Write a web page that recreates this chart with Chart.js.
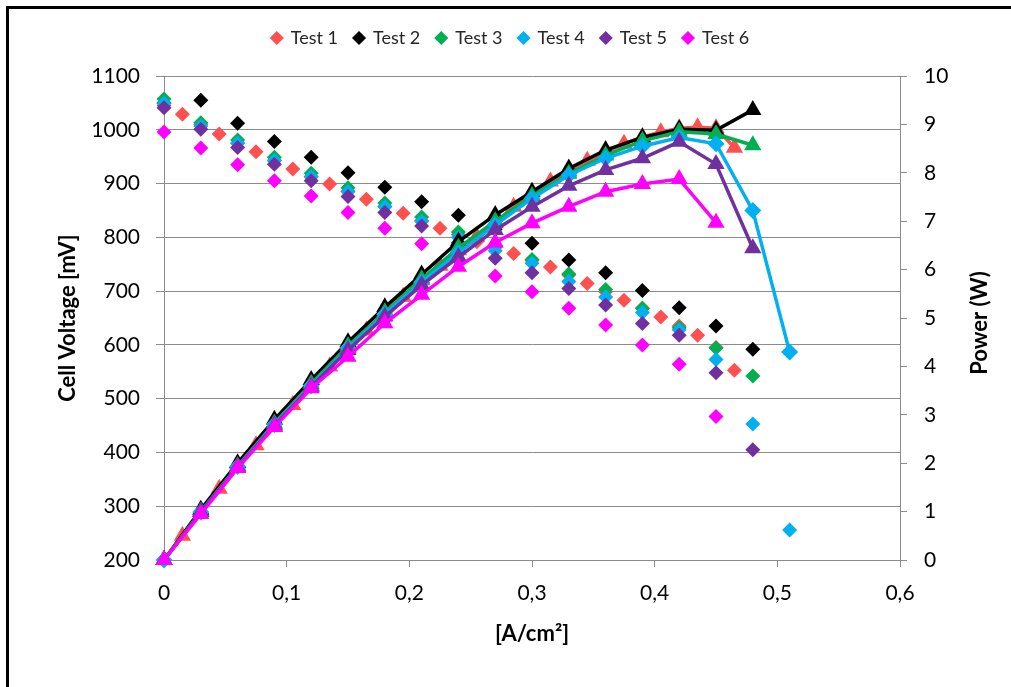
<!DOCTYPE html>
<html>
<head>
<meta charset="utf-8">
<script src="https://cdn.jsdelivr.net/npm/chart.js@4/dist/chart.umd.min.js"></script>
<style>
html,body{margin:0;padding:0;background:#fff;overflow:hidden;}
#wrap{position:relative;width:1011px;height:687px;}
#frame{position:absolute;left:6px;top:6px;width:1030px;height:720px;border:3px solid #000;box-sizing:border-box;pointer-events:none;}
canvas{position:absolute;left:0;top:0;}
</style>
</head>
<body>
<div id="wrap"><canvas id="c" width="1011" height="687"></canvas><div id="frame"></div></div>
<script>
const seriesNames = ['Test 1', 'Test 2', 'Test 3', 'Test 4', 'Test 5', 'Test 6'];
const seriesColors = ['#FF5050', '#000000', '#00B050', '#00B0F0', '#7030A0', '#FF00FF'];
const xTickLabels = ['0', '0,1', '0,2', '0,3', '0,4', '0,5', '0,6'];

const current1 = [0, 0.015, 0.03, 0.045, 0.06, 0.075, 0.09, 0.105, 0.12, 0.135, 0.15, 0.165, 0.18, 0.195, 0.21, 0.225, 0.24, 0.255, 0.27, 0.285, 0.3, 0.315, 0.33, 0.345, 0.36, 0.375, 0.39, 0.405, 0.42, 0.435, 0.45, 0.465];
const voltage1 = [1045, 1029, 1010, 992, 975, 959, 943, 927, 912, 899, 885, 871, 858, 845, 831, 817, 805, 792, 781, 770, 757, 745, 730, 714, 699, 683, 668, 652, 635, 618, 595, 553];
const power1 = [0, 0.50, 1.00, 1.47, 1.94, 2.37, 2.80, 3.20, 3.60, 4.00, 4.38, 4.74, 5.10, 5.44, 5.78, 6.08, 6.40, 6.68, 6.96, 7.30, 7.52, 7.82, 8.02, 8.25, 8.42, 8.60, 8.74, 8.84, 8.92, 8.94, 8.92, 8.52];

const current2 = [0, 0.03, 0.06, 0.09, 0.12, 0.15, 0.18, 0.21, 0.24, 0.27, 0.3, 0.33, 0.36, 0.39, 0.42, 0.45, 0.48];
const voltage2 = [1050, 1055, 1012, 978, 949, 920, 893, 866, 841, 815, 789, 758, 734, 701, 669, 635, 592];
const power2 = [0, 1.04, 2.00, 2.90, 3.72, 4.50, 5.22, 5.90, 6.58, 7.13, 7.61, 8.09, 8.47, 8.73, 8.90, 8.88, 9.30];

const current3 = [0, 0.03, 0.06, 0.09, 0.12, 0.15, 0.18, 0.21, 0.24, 0.27, 0.3, 0.33, 0.36, 0.39, 0.42, 0.45, 0.48];
const voltage3 = [1057, 1013, 981, 949, 919, 892, 864, 838, 810, 785, 759, 732, 703, 668, 632, 594, 542];
const power3 = [0, 1.00, 1.94, 2.82, 3.64, 4.42, 5.12, 5.80, 6.45, 7.00, 7.52, 7.98, 8.36, 8.66, 8.85, 8.80, 8.57];

const current4 = [0, 0.03, 0.06, 0.09, 0.12, 0.15, 0.18, 0.21, 0.24, 0.27, 0.3, 0.33, 0.36, 0.39, 0.42, 0.45, 0.48, 0.51];
const voltage4 = [1050, 1007, 975, 943, 913, 885, 857, 830, 800, 775, 752, 718, 689, 660, 628, 573, 453, 256];
const power4 = [0, 0.99, 1.93, 2.80, 3.60, 4.38, 5.08, 5.74, 6.35, 6.92, 7.47, 7.95, 8.30, 8.55, 8.73, 8.60, 7.22, 4.30];

const current5 = [0, 0.03, 0.06, 0.09, 0.12, 0.15, 0.18, 0.21, 0.24, 0.27, 0.3, 0.33, 0.36, 0.39, 0.42, 0.45, 0.48];
const voltage5 = [1041, 1001, 967, 936, 905, 876, 846, 821, 790, 761, 734, 705, 674, 640, 618, 548, 405];
const power5 = [0, 0.99, 1.92, 2.78, 3.58, 4.34, 5.03, 5.68, 6.26, 6.82, 7.30, 7.73, 8.06, 8.30, 8.64, 8.18, 6.44];

const current6 = [0, 0.03, 0.06, 0.09, 0.12, 0.15, 0.18, 0.21, 0.24, 0.27, 0.3, 0.33, 0.36, 0.39, 0.42, 0.45];
const voltage6 = [996, 966, 935, 905, 877, 846, 817, 788, 758, 728, 699, 668, 637, 600, 564, 467];
const power6 = [0, 0.95, 1.90, 2.75, 3.55, 4.20, 4.89, 5.48, 6.06, 6.56, 6.96, 7.30, 7.61, 7.77, 7.87, 6.97];

const currents = [current1, current2, current3, current4, current5, current6];
const voltages = [voltage1, voltage2, voltage3, voltage4, voltage5, voltage6];
const powers = [power1, power2, power3, power4, power5, power6];

function pts(xs, ys) { return xs.map((x, i) => ({ x: x, y: ys[i] })); }

const datasets = [];
seriesNames.forEach((name, k) => {
  datasets.push({
    label: name,
    data: pts(currents[k], voltages[k]),
    yAxisID: 'yV',
    showLine: false,
    pointStyle: 'rectRot',
    pointRadius: 7.5,
    pointHoverRadius: 7.5,
    backgroundColor: seriesColors[k],
    borderColor: seriesColors[k],
    borderWidth: 0,
    pointBorderWidth: 0,
    clip: false,
    order: 12 - k
  });
});
seriesNames.forEach((name, k) => {
  const diamond = k === 3;
  datasets.push({
    label: name + ' P',
    data: pts(currents[k], powers[k]),
    yAxisID: 'yP',
    showLine: true,
    tension: 0,
    borderColor: seriesColors[k],
    backgroundColor: seriesColors[k],
    borderWidth: 3.5,
    pointStyle: diamond ? 'rectRot' : 'triangle',
    pointRadius: diamond ? 8.5 : 10,
    pointHoverRadius: diamond ? 8.5 : 10,
    pointBackgroundColor: seriesColors[k],
    pointBorderWidth: 0,
    clip: false,
    order: 6 - k
  });
});

const legendHeight = {
  id: 'legendHeight',
  beforeInit(chart) {
    const origFit = chart.legend.fit;
    chart.legend.fit = function () { origFit.bind(chart.legend)(); this.height = 63; };
  }
};

const rightTitle = {
  id: 'rightTitle',
  afterDraw(chart) {
    const ctx = chart.ctx;
    ctx.save();
    ctx.translate(980, 323);
    ctx.rotate(-Math.PI / 2);
    ctx.font = 'bold 22px Lato';
    ctx.fillStyle = '#000';
    ctx.textAlign = 'center';
    ctx.textBaseline = 'middle';
    ctx.fillText('Power (W)', 0, 0);
    ctx.restore();
  }
};

Chart.defaults.font.family = 'Lato';
const gridColor = '#8c8c8c';

new Chart(document.getElementById('c'), {
  type: 'line',
  data: { datasets: datasets },
  plugins: [legendHeight, rightTitle],
  options: {
    responsive: false,
    animation: false,
    devicePixelRatio: 1,
    layout: { padding: { top: 13, left: 20, right: 10, bottom: 10 } },
    plugins: {
      tooltip: { enabled: false },
      legend: {
        position: 'top',
        labels: {
          filter: (item) => item.datasetIndex < 6,
          sort: (a, b) => a.datasetIndex - b.datasetIndex,
          usePointStyle: true,
          boxWidth: 10,
          boxHeight: 10,
          padding: 16,
          color: '#262626',
          font: { size: 18, family: 'Lato' }
        }
      }
    },
    scales: {
      x: {
        type: 'linear',
        position: 'bottom',
        min: 0,
        max: 0.6,
        ticks: {
          stepSize: 0.1,
          padding: 14,
          color: '#000',
          font: { size: 21 },
          callback: (v, i) => xTickLabels[i]
        },
        grid: { drawOnChartArea: false, drawTicks: true, tickLength: 7, color: gridColor },
        border: { color: gridColor, width: 1 },
        title: { display: true, text: '[A/cm²]', color: '#000', font: { size: 22, weight: 'bold' }, padding: { top: 0, bottom: 30 } },
        afterFit: (s) => { s.height = 117; }
      },
      yV: {
        type: 'linear',
        position: 'left',
        min: 200,
        max: 1100,
        ticks: { stepSize: 100, padding: 16, color: '#000', font: { size: 21 }, callback: (v) => String(v) },
        grid: { color: gridColor, tickLength: 8, drawTicks: true },
        border: { color: gridColor, width: 1 },
        title: { display: true, text: 'Cell Voltage [mV]', color: '#000', font: { size: 22, weight: 'bold' }, padding: { top: 35, bottom: 0 } },
        afterFit: (s) => { s.width = 144; }
      },
      yP: {
        type: 'linear',
        position: 'right',
        min: 0,
        max: 10,
        ticks: { stepSize: 1, padding: 17, color: '#000', font: { size: 21 }, callback: (v) => String(v) },
        grid: { drawOnChartArea: false, drawTicks: true, tickLength: 7, color: gridColor },
        border: { color: gridColor, width: 1 },
        afterFit: (s) => { s.width = 101; }
      }
    }
  }
});
</script>
</body>
</html>
